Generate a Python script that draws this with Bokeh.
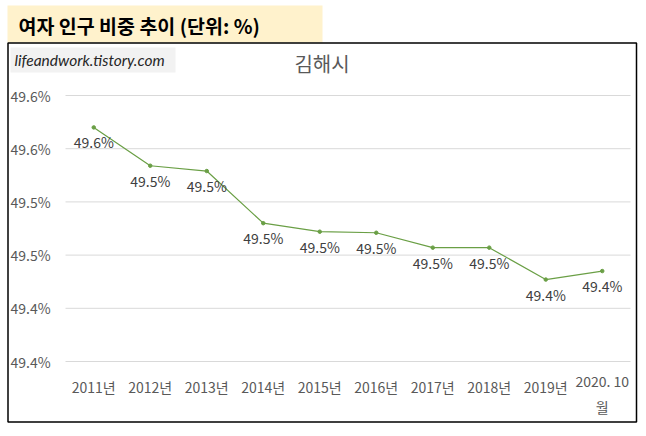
from bokeh.plotting import figure
from bokeh.models import Range1d
from bokeh.core.properties import value
from bokeh.embed import file_html
from bokeh.resources import INLINE

# ---- data ----
categories = ["2011년", "2012년", "2013년", "2014년", "2015년",
              "2016년", "2017년", "2018년", "2019년", "2020. 10\n월"]
female_share = [49.570, 49.534, 49.529, 49.480, 49.472,
                49.471, 49.457, 49.457, 49.427, 49.435]
y_ticks = [49.60, 49.55, 49.50, 49.45, 49.40, 49.35]
y_tick_labels = ["49.6%", "49.6%", "49.5%", "49.5%", "49.4%", "49.4%"]
header_text = "여자 인구 비중 추이 (단위: %)"
chart_title = "김해시"
watermark = "lifeandwork.tistory.com"

# ---- layout (canvas pixels) ----
W, H = 640, 426
PLOT_L, PLOT_R = 65, 630
Y_TOP_PX, Y_BOT_PX = 95, 361
KFONT = "Noto Sans CJK KR"

n = len(categories)
px_cat = (PLOT_R - PLOT_L) / n
cat_start = -PLOT_L / px_cat
cat_end = (W - PLOT_L) / px_cat
px_val = (Y_BOT_PX - Y_TOP_PX) / (y_ticks[0] - y_ticks[-1])
val_top = y_ticks[0] + Y_TOP_PX / px_val
val_bot = y_ticks[-1] - (H - Y_BOT_PX) / px_val

p = figure(width=W, height=H, x_range=Range1d(0, W), y_range=Range1d(H, 0),
           output_backend="svg", toolbar_location=None, min_border=0,
           x_axis_type=None, y_axis_type=None)
p.grid.visible = False
p.outline_line_color = None
p.background_fill_color = "white"
p.border_fill_color = "white"
p.extra_x_ranges = {"cat": Range1d(cat_start, cat_end)}
p.extra_y_ranges = {"val": Range1d(val_bot, val_top)}

# header box
p.quad(left=7, right=322, top=5, bottom=42, fill_color="#FFF2CC", line_color=None)
p.text(x=[18], y=[25], text=[header_text], text_font=value(KFONT),
       text_font_style="bold", text_font_size="19.5px", text_color="#000000",
       text_align="left", text_baseline="middle")

# chart border
p.quad(left=7.5, right=636, top=42.5, bottom=421.5, fill_color=None,
       line_color="#000000", line_width=1.5)

# watermark
p.quad(left=10, right=175, top=47, bottom=72, fill_color="#F2F2F2", line_color=None)
p.text(x=[14], y=[59.5], text=[watermark], text_font=value("Lato"),
       text_font_style="italic", text_font_size="15.5px", text_color="#262626",
       text_align="left", text_baseline="middle")

# chart title
p.text(x=[321.5], y=[63], text=[chart_title], text_font=value(KFONT),
       text_font_size="20px", text_color="#595959",
       text_align="center", text_baseline="middle")

# gridlines
p.segment(x0=[0] * len(y_ticks), x1=[n] * len(y_ticks), y0=y_ticks, y1=y_ticks,
          x_range_name="cat", y_range_name="val", line_color="#D9D9D9", line_width=1)

# y tick labels
p.text(x=[10] * len(y_ticks), y=y_ticks, text=y_tick_labels, y_range_name="val",
       text_font=value(KFONT), text_font_size="14px", text_color="#595959",
       text_align="left", text_baseline="middle")

# x tick labels
xs = [i + 0.5 for i in range(n)]
single = [(x, c) for x, c in zip(xs, categories) if "\n" not in c]
multi = [(x, c) for x, c in zip(xs, categories) if "\n" in c]
p.text(x=[s[0] for s in single], y=[386] * len(single), text=[s[1] for s in single],
       x_range_name="cat", text_font=value(KFONT), text_font_size="14px",
       text_color="#595959", text_align="center", text_baseline="middle")
p.text(x=[m[0] for m in multi], y=[370] * len(multi), text=[m[1] for m in multi],
       x_range_name="cat", text_font=value(KFONT), text_font_size="14px",
       text_color="#595959", text_align="center", text_baseline="top",
       text_line_height=1.3)

# data line
p.line(x=xs, y=female_share, x_range_name="cat", y_range_name="val",
       line_color="#6A9F45", line_width=1.2)
p.scatter(x=xs, y=female_share, x_range_name="cat", y_range_name="val",
          size=3.5, fill_color="#6A9F45", line_color="#6A9F45")

# data labels
data_labels = [f"{v:.1f}%" for v in female_share]
p.text(x=xs, y=female_share, text=data_labels, x_range_name="cat", y_range_name="val",
       y_offset=15, text_font=value(KFONT), text_font_size="14px", text_color="#404040",
       text_align="center", text_baseline="middle")

open("out.html", "w").write(file_html(p, INLINE))
